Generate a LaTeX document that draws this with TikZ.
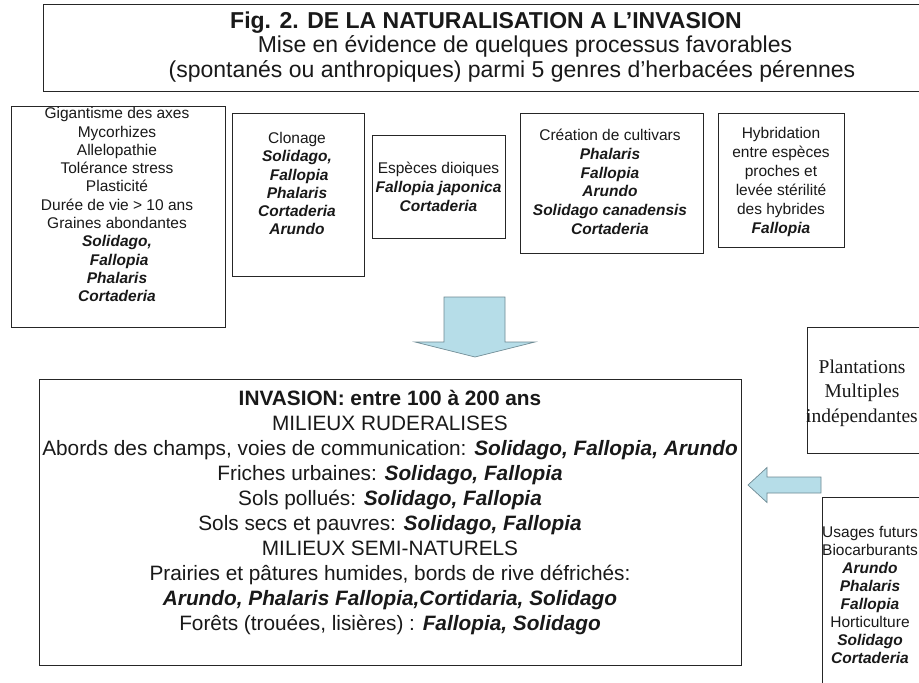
\documentclass[tikz,border=0pt]{standalone}
\usepackage{fontspec}
\setmainfont{Liberation Sans}
\newfontfamily\timesfont{Liberation Serif}
\definecolor{arrowfill}{HTML}{B6DDE8}
\definecolor{arrowline}{HTML}{6E8A93}
\newcommand{\genus}[1]{\textbf{\textit{#1}}}
\begin{document}
\begin{tikzpicture}[x=1pt,y=-1pt,
  frame/.style={draw=black!85, line width=0.9pt, inner sep=0pt, minimum width=#1},
  txt/.style={inner sep=0pt, align=center, text=black!90, anchor=north},
  small/.style={txt, font=\fontsize{15.5}{#1}\selectfont},
  big/.style={inner sep=0pt, anchor=base, text=black!90, font=\fontsize{23}{25}\selectfont},
  blockarrow/.style={fill=arrowfill, draw=arrowline, line width=0.7pt, line join=miter}]
\clip (0,0) rectangle (919,683);
\fill[white] (0,0) rectangle (919,683);
% title
\draw[line width=0.9pt, draw=black!85] (935,4) -- (43,4) -- (43,91) -- (935,91);
\node[big, font=\fontsize{23}{25}\selectfont\bfseries] (t1) at (486,28.2) {Fig. 2. DE LA NATURALISATION A L’INVASION};
\node[big] (t2) at (525,52.7) {Mise en évidence de quelques processus favorables};
\node[big] (t3) at (512,77.2) {(spontanés ou anthropiques) parmi 5 genres d’herbacées pérennes};
% top boxes
\node[frame=214pt, minimum height=221pt, anchor=north west] (b1) at (11,106) {};
\node[small=18.3] (b1t) at (117,105.7) {\strut Gigantisme des axes\\Mycorhizes\\Allelopathie\\Tolérance stress\\Plasticité\\Durée de vie > 10 ans\\Graines abondantes\\\genus{Solidago,}\hspace*{10pt}\\\genus{\ Fallopia}\\\genus{Phalaris}\\\genus{Cortaderia}};
\node[frame=132pt, minimum height=163pt, anchor=north west] (b2) at (232,113) {};
\node[small=18.2] (b2t) at (297,130.8) {\strut Clonage\\\genus{Solidago,}\\\genus{\ Fallopia}\\\genus{Phalaris}\\\genus{Cortaderia}\\\genus{Arundo}};
\node[frame=133pt, minimum height=103pt, anchor=north west] (b3) at (372,135) {};
\node[small=18.8] (b3t) at (438.5,160.4) {\strut Espèces dioiques\\\genus{Fallopia japonica}\\\genus{Cortaderia}};
\node[frame=183pt, minimum height=140pt, anchor=north west] (b4) at (520,113) {};
\node[small=18.7] (b4t) at (610,127.5) {\strut Création de cultivars\\\genus{Phalaris}\\\genus{Fallopia}\\\genus{Arundo}\\\genus{Solidago canadensis}\\\genus{Cortaderia}};
\node[frame=126pt, minimum height=134pt, anchor=north west] (b5) at (718,113) {};
\node[small=19] (b5t) at (781,125.3) {\strut Hybridation\\entre espèces\\proches et\\levée stérilité\\des hybrides\\\genus{Fallopia}};
% right boxes
\node[frame=130pt, minimum height=126pt, anchor=north west] (pl) at (807,327) {};
\node[txt, font=\timesfont\fontsize{19.5}{24.2}\selectfont] (plt) at (862,356.5) {\strut Plantations\\Multiples\\indépendantes};
\node[frame=130pt, minimum height=220pt, anchor=north west] (us) at (822,497) {};
\node[small=18] (ust) at (870,524.9) {\strut Usages futurs\\Biocarburants\\\genus{Arundo}\\\genus{Phalaris}\\\genus{Fallopia}\\Horticulture\\\genus{Solidago}\\\genus{Cortaderia}};
% invasion box
\node[frame=702pt, minimum height=286pt, anchor=north west] (inv) at (39,379) {};
\node[txt, font=\fontsize{20.8}{25}\selectfont] (invt) at (390,388) {\strut\textbf{INVASION: entre 100 à 200 ans}\\
MILIEUX RUDERALISES\\
Abords des champs, voies de communication: \genus{Solidago, Fallopia, Arundo}\\
Friches urbaines: \genus{Solidago, Fallopia}\\
Sols pollués: \genus{Solidago, Fallopia}\\
Sols secs et pauvres: \genus{Solidago, Fallopia}\\
MILIEUX SEMI-NATURELS\\
Prairies et pâtures humides, bords de rive défrichés:\\
\genus{Arundo, Phalaris Fallopia,Cortidaria, Solidago}\\
Forêts (trouées, lisières) : \genus{Fallopia, Solidago}};
% block arrows
\draw[blockarrow] (444,297) -- (505,297) -- (505,342) -- (535,342) -- (475,357) -- (415,342) -- (444,342) -- cycle;
\draw[blockarrow] (821,477) -- (767,477) -- (767,467.5) -- (748,485) -- (767,502.5) -- (767,493) -- (821,493) -- cycle;
\end{tikzpicture}
\end{document}
